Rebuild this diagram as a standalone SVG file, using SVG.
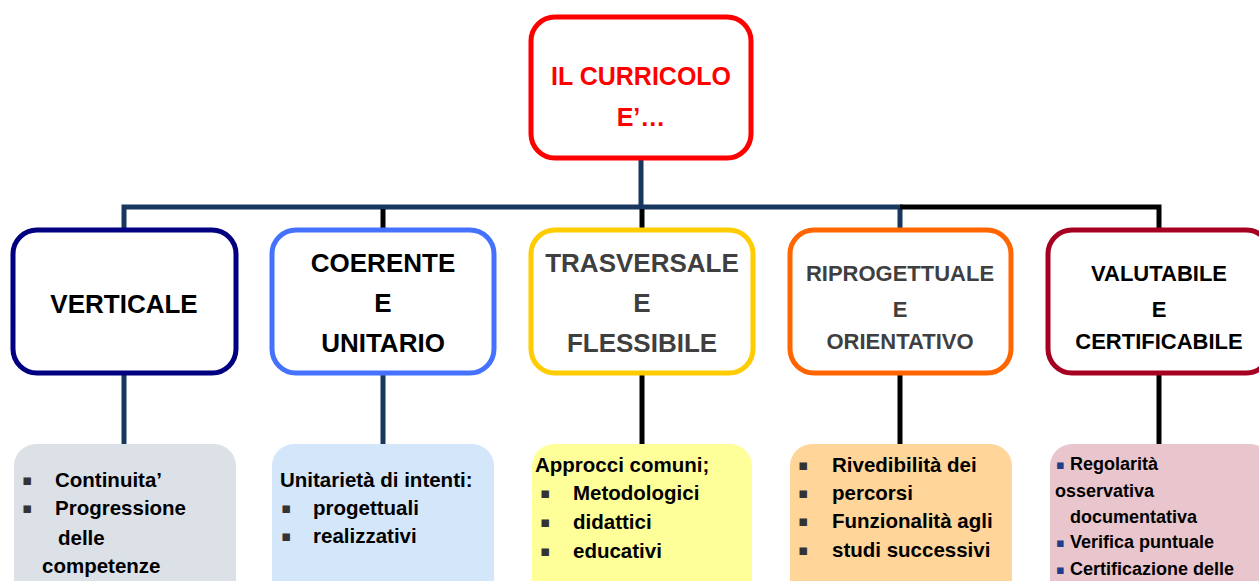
<svg xmlns="http://www.w3.org/2000/svg" width="1259" height="581" viewBox="0 0 1259 581">
<style>
text{font-family:"Liberation Sans",Arial,sans-serif;font-weight:bold}
.top{fill:#FF0000;font-size:25px;text-anchor:middle}
.h1{font-size:26px;text-anchor:middle;fill:#000}
.h2{font-size:22px;text-anchor:middle;fill:#000}
.g{fill:#3F3F3F}
.b{font-size:20.5px;fill:#000}
.p{font-size:18px;fill:#000}
.bl{font-size:15px;fill:#333;font-family:"DejaVu Sans",sans-serif}
.bp{font-size:13px;fill:#1F3E8C;font-family:"DejaVu Sans",sans-serif}
.box{fill:#fff;stroke-width:5}
.sub{stroke:none}
.navy{stroke:#17375E;stroke-width:5;fill:none}
.blk{stroke:#000;stroke-width:5;fill:none}
</style>
<rect width="1259" height="581" fill="#fff"/>
<g id="connectors">
<line class="navy" x1="641" y1="158" x2="641" y2="207"/>
<polyline class="navy" points="124,230 124,207 900,207 900,230"/>
<polyline class="blk" points="900,207 1159,207 1159,230"/>
<line class="blk" x1="383" y1="209" x2="383" y2="230"/>
<line class="blk" x1="642" y1="209" x2="642" y2="230"/>
<line class="navy" x1="124" y1="374" x2="124" y2="446"/>
<line class="navy" x1="383" y1="374" x2="383" y2="446"/>
<line class="blk" x1="642" y1="374" x2="642" y2="446"/>
<line class="blk" x1="900" y1="374" x2="900" y2="446"/>
<line class="blk" x1="1159" y1="374" x2="1159" y2="446"/>
</g>
<g id="root">
<rect class="box" x="531" y="17" width="220" height="141" rx="24" stroke="#FF0000"/>
<text class="top" x="641" y="85">IL CURRICOLO</text>
<text class="top" x="641" y="126">E’…</text>
</g>
<g id="verticale">
<rect class="box" x="13" y="230" width="223" height="143" rx="24" stroke="#000080"/>
<text class="h1" x="124" y="313">VERTICALE</text>
</g>
<g id="coerente">
<rect class="box" x="272" y="230" width="222" height="143" rx="24" stroke="#4472FF"/>
<text class="h1" x="383" y="272">COERENTE</text>
<text class="h1" x="383" y="312">E</text>
<text class="h1" x="383" y="352">UNITARIO</text>
</g>
<g id="trasversale">
<rect class="box" x="531" y="230" width="222" height="143" rx="24" stroke="#FFCC00"/>
<text class="h1 g" x="642" y="272">TRASVERSALE</text>
<text class="h1 g" x="642" y="312">E</text>
<text class="h1 g" x="642" y="352">FLESSIBILE</text>
</g>
<g id="riprogettuale">
<rect class="box" x="790" y="230" width="221" height="143" rx="24" stroke="#FF6600"/>
<text class="h2 g" x="900" y="281">RIPROGETTUALE</text>
<text class="h2 g" x="900" y="317">E</text>
<text class="h2 g" x="900" y="349">ORIENTATIVO</text>
</g>
<g id="valutabile">
<rect class="box" x="1048" y="230" width="222" height="143" rx="24" stroke="#A50021"/>
<text class="h2" x="1159" y="281">VALUTABILE</text>
<text class="h2" x="1159" y="317">E</text>
<text class="h2" x="1159" y="349">CERTIFICABILE</text>
</g>
<g id="sub-verticale">
<rect class="sub" x="14" y="444" width="222" height="160" rx="22" fill="#DCE0E7"/>
<text class="bl" x="22" y="485">▪</text>
<text class="b" x="55" y="487">Continuita’</text>
<text class="bl" x="22" y="513">▪</text>
<text class="b" x="55" y="515">Progressione</text>
<text class="b" x="58" y="545">delle</text>
<text class="b" x="42" y="573">competenze</text>
</g>
<g id="sub-coerente">
<rect class="sub" x="272" y="444" width="222" height="160" rx="22" fill="#D3E6FA"/>
<text class="b" x="280" y="487">Unitarietà di intenti:</text>
<text class="bl" x="281" y="513">▪</text>
<text class="b" x="313" y="515">progettuali</text>
<text class="bl" x="281" y="541">▪</text>
<text class="b" x="313" y="543">realizzativi</text>
</g>
<g id="sub-trasversale">
<rect class="sub" x="532" y="444" width="220" height="160" rx="22" fill="#FFFF99"/>
<text class="b" x="535" y="472">Approcci comuni;</text>
<text class="bl" x="540" y="498">▪</text>
<text class="b" x="573" y="500">Metodologici</text>
<text class="bl" x="540" y="527">▪</text>
<text class="b" x="573" y="529">didattici</text>
<text class="bl" x="540" y="556">▪</text>
<text class="b" x="573" y="558">educativi</text>
</g>
<g id="sub-riprogettuale">
<rect class="sub" x="790" y="444" width="222" height="160" rx="22" fill="#FFD59A"/>
<text class="bl" x="798" y="470">▪</text>
<text class="b" x="832" y="472">Rivedibilità dei</text>
<text class="bl" x="798" y="498">▪</text>
<text class="b" x="832" y="500">percorsi</text>
<text class="bl" x="798" y="526">▪</text>
<text class="b" x="832" y="528">Funzionalità agli</text>
<text class="bl" x="798" y="555">▪</text>
<text class="b" x="832" y="557">studi successivi</text>
</g>
<g id="sub-valutabile">
<rect class="sub" x="1050" y="444" width="222" height="160" rx="22" fill="#E9C6CD"/>
<text class="bp" x="1056" y="469">▪</text>
<text class="p" x="1070" y="470">Regolarità</text>
<text class="p" x="1055" y="497">osservativa</text>
<text class="p" x="1070" y="523">documentativa</text>
<text class="bp" x="1056" y="547">▪</text>
<text class="p" x="1070" y="548">Verifica puntuale</text>
<text class="bp" x="1056" y="574">▪</text>
<text class="p" x="1070" y="575">Certificazione delle</text>
</g>
</svg>
